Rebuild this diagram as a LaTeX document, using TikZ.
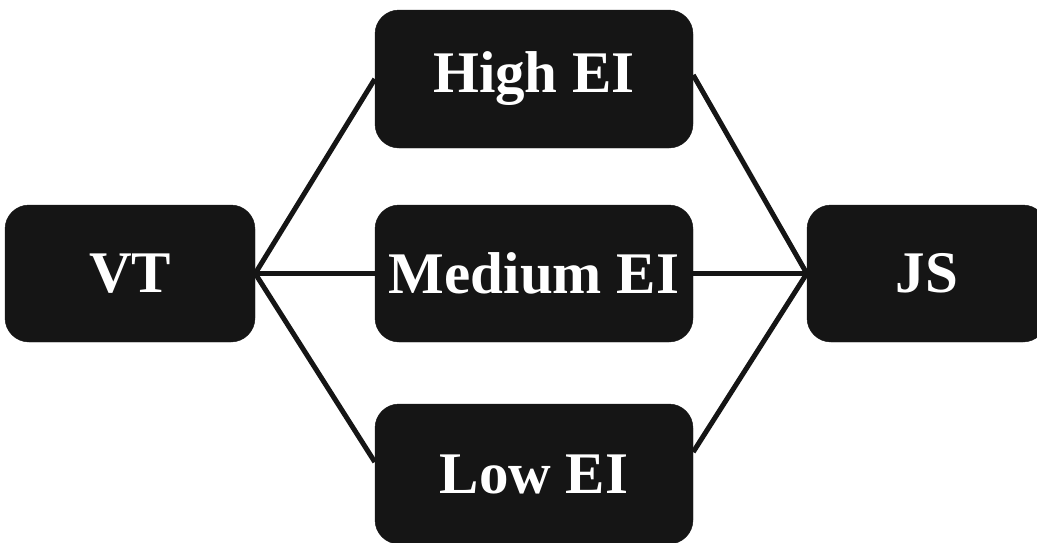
\documentclass[tikz,border=0pt]{standalone}
\usepackage{fontspec}
\setmainfont{Liberation Serif}
\definecolor{boxfill}{HTML}{151515}
\begin{document}
\begin{tikzpicture}[x=1pt,y=-1pt,
  box/.style={draw=boxfill,fill=boxfill,rounded corners=24pt,inner sep=0pt,
    text=white,font=\fontsize{59}{60}\selectfont\bfseries},
  link/.style={line width=5pt,draw=boxfill}]
\useasboundingbox (0,0) rectangle (1037,542);
\node[box,minimum width=250pt,minimum height=137pt] (vt) at (130,273.5) {VT};
\node[box,minimum width=318pt,minimum height=138pt] (high) at (534,79) {High EI};
\node[box,minimum width=318pt,minimum height=137pt] (med) at (534,273.5) {Medium EI};
\node[box,minimum width=318pt,minimum height=140pt] (low) at (534,474) {Low EI};
\node[box,minimum width=240pt,minimum height=137pt] (js) at (927,273.5) {JS};
\begin{scope}[on background layer/.try]
\draw[link] (vt.east) -- (high.west);
\draw[link] (vt.east) -- (med.west);
\draw[link] (vt.east) -- ([yshift=12pt]low.west);
\draw[link] (js.west) -- ([yshift=4pt]high.east);
\draw[link] (js.west) -- (med.east);
\draw[link] (js.west) -- ([yshift=22pt]low.east);
\end{scope}
\end{tikzpicture}
\end{document}
